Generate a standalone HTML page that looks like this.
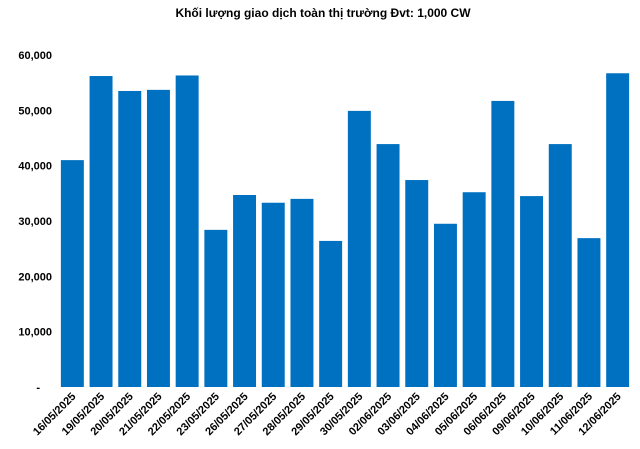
<!DOCTYPE html>
<html><head><meta charset="utf-8"><style>
body{margin:0;background:#fff;}
svg{display:block;font-family:"Liberation Sans",Arial,sans-serif;}
</style></head><body>
<svg id="chart" width="640" height="449">
<text x="323" y="17" text-anchor="middle" font-size="12" font-weight="bold" fill="#000">Khối lượng giao dịch toàn thị trường Đvt: 1,000 CW</text>
<g id="yaxis"></g>
<g id="bars"></g>
<g id="xaxis"></g>
</svg>
<script>
const categories=["16/05/2025","19/05/2025","20/05/2025","21/05/2025","22/05/2025","23/05/2025","26/05/2025","27/05/2025","28/05/2025","29/05/2025","30/05/2025","02/06/2025","03/06/2025","04/06/2025","05/06/2025","06/06/2025","09/06/2025","10/06/2025","11/06/2025","12/06/2025"];
const values=[41000,56200,53500,53700,56300,28400,34700,33300,34000,26400,49900,43900,37400,29500,35200,51700,34500,43900,26900,56700];
const yTicks=[0,10000,20000,30000,40000,50000,60000];
const yTickLabels=["-","10,000","20,000","30,000","40,000","50,000","60,000"];
const NS="http://www.w3.org/2000/svg";
const plotLeft=58,plotRight=632,plotTop=55,plotBottom=387,yMax=60000;
const yScale=v=>plotBottom-(v/yMax)*(plotBottom-plotTop);
const step=(plotRight-plotLeft)/categories.length;
const xScale=i=>plotLeft+step*i;
const bw=step*0.8;
const ya=document.getElementById('yaxis'),bg=document.getElementById('bars'),xa=document.getElementById('xaxis');
yTicks.forEach((t,i)=>{
 const tx=document.createElementNS(NS,'text');
 
 
 tx.setAttribute('x',i===0?40:52);tx.setAttribute('y',yScale(t)+4);
 tx.setAttribute('text-anchor','end');tx.setAttribute('font-size','11');tx.setAttribute('font-weight','bold');
 tx.textContent=yTickLabels[i];ya.appendChild(tx);
});
values.forEach((v,i)=>{
 const r=document.createElementNS(NS,'rect');
 
 
 r.setAttribute('x',xScale(i)+(step-bw)/2);r.setAttribute('y',yScale(v));
 r.setAttribute('width',bw);r.setAttribute('height',plotBottom-yScale(v));
 r.setAttribute('fill','#0070C0');bg.appendChild(r);
 const cx=xScale(i)+step/2+4,cy=plotBottom+10;
 const tx=document.createElementNS(NS,'text');
 
 
 tx.setAttribute('x',cx);tx.setAttribute('y',cy);
 tx.setAttribute('text-anchor','end');tx.setAttribute('font-size','11');tx.setAttribute('font-weight','bold');
 tx.setAttribute('transform','rotate(-45 '+cx+' '+cy+')');
 tx.textContent=categories[i];xa.appendChild(tx);
});
</script>
</body></html>
